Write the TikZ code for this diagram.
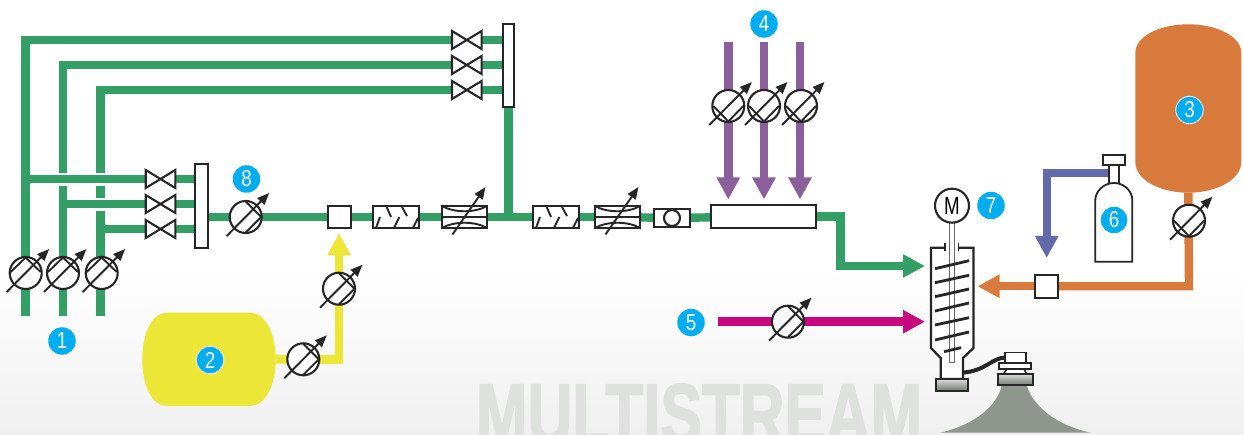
\documentclass[tikz,border=0pt]{standalone}
\usepackage{fontspec}
\usepackage{graphicx}
\setmainfont{Liberation Sans}
\newfontfamily\wmfont[FakeBold=2.5]{Liberation Sans Bold}
\usetikzlibrary{arrows.meta}
\definecolor{cgreen}{HTML}{339E66}
\definecolor{cyellow}{HTML}{ECE636}
\definecolor{corange}{HTML}{D87A3C}
\definecolor{cpurple}{HTML}{8B5F9B}
\definecolor{cblue}{HTML}{636AAC}
\definecolor{cmag}{HTML}{C8077F}
\definecolor{ccyan}{HTML}{00AEEF}
\definecolor{cext}{HTML}{8F968D}
\definecolor{cdark}{HTML}{262626}
\definecolor{cwm}{HTML}{DFE1DF}
\pgfdeclarelayer{bg}
\pgfdeclarelayer{pipes}
\pgfsetlayers{bg,pipes,main}
\tikzset{
  pipe/.style={line width=8.4pt,miter limit=10,line join=miter},
  head/.style={-{Triangle[length=22pt,width=22pt]}},
  symb/.style={draw=cdark,line width=2.1pt,fill=white},
  boxn/.style={symb,inner sep=0pt,outer sep=0pt,rectangle,minimum width=#1},
  boxn/.default=23pt,
  sline/.style={draw=cdark,line width=1.9pt},
  tankn/.style={inner sep=0pt,outer sep=0pt,rectangle},
  valven/.style={inner sep=0pt,outer sep=0pt,rectangle,minimum width=29.6pt,minimum height=18pt},
  meterc/.style={symb,circle,inner sep=0pt,outer sep=0pt,minimum size=32pt},
  badge/.style={circle,fill=ccyan,text=white,inner sep=0pt,minimum size=27.5pt,font=\fontsize{23}{23}\selectfont},
  badger/.style={badge,draw=white,line width=0.8pt},
  gblock/.style={draw=cdark,line width=2.2pt,top color=cext!35!white,bottom color=cext!80!black,inner sep=0pt,outer sep=0pt,rectangle},
  spiral/.style={draw=cdark,line width=2.8pt}
}
\newcommand\numtxt[1]{\scalebox{0.82}[1]{#1}}
\newcommand\flowmeter[4]{%
  \node[meterc] (#1) at (#2,#3) {};
  \begin{scope}[shift={(#2,#3)}]
    \draw[sline] #4;
    \draw[sline,-{Triangle[length=12pt,width=9.5pt]}] (-19,19) -- (23.5,-24);
  \end{scope}}
\newcommand\chordR{(0,-15.5) -- (15.5,0) -- (0,15.5)}
\newcommand\chordB{(-15,0) -- (0,15.5) -- (15,0)}
\newcommand\chordT{(-15,-1) -- (0,-15.5) -- (15,-1)}
\newcommand\valvesym[3]{%
  \node[valven] (#1) at (#2,#3) {};
  \draw[symb,line join=miter] (#1.north west) -- (#1.south east) -- (#1.north east) -- (#1.south west) -- cycle;}
\newcommand\mixersym[2]{%
  \node[boxn=46pt,minimum height=22.5pt] (#1) at (#2,217) {};
  \begin{scope}[shift={(#2,217)}]
    \draw[sline] (-20,11) -- (-16,0) (-2,11) -- (3.3,0) (17,11) -- (22,1)
                 (-9.3,-10) -- (-5,0) (6,-10) -- (11,-1);
  \end{scope}}
\newcommand\varsym[2]{%
  \node[boxn=45.5pt,minimum height=22.5pt] (#1) at (#2,217) {};
  \begin{scope}[shift={(#2,217)}]
    \draw[sline] (-22.7,0) -- (22.7,0);
    \draw[sline] (-22.7,-11) .. controls (-10,-4) and (10,-4) .. (22.7,-11);
    \draw[sline] (-22.7,11) .. controls (-10,4) and (10,4) .. (22.7,11);
    \draw[sline,-{Triangle[length=12pt,width=9.5pt]}] (-12,17.5) -- (21,-30);
  \end{scope}}
\begin{document}
\begin{tikzpicture}[x=1pt,y=-1pt]
\useasboundingbox (0,0) rectangle (1244,435);
\begin{pgfonlayer}{bg}
  \fill[white] (0,0) rectangle (1244,435);
  \shade[top color=white,bottom color=black!6] (0,270) rectangle (1244,435);
  \begin{scope}
    \clip (0,0) rectangle (1244,435);
    \node[anchor=base,inner sep=0pt,text=cwm,font=\wmfont\fontsize{86}{86}\selectfont] (wm) at (699,444) {\scalebox{0.72}[1]{MULTISTREAM}};
  \end{scope}
\end{pgfonlayer}

% tanks
\node[tankn,minimum width=133.4pt,minimum height=93.3pt] (ytank) at (209,359.4) {};
\fill[cyellow] (167,312.7) -- (250,312.7) .. controls (265,312.7) and (275.7,333) .. (275.7,359.4)
  .. controls (275.7,386) and (265,406) .. (250,406) -- (167,406)
  .. controls (152,406) and (142.3,386) .. (142.3,359.4)
  .. controls (142.3,333) and (152,312.7) .. (167,312.7) -- cycle;
\node[tankn,minimum width=106pt,minimum height=168.4pt] (otank) at (1188.3,108.5) {};
\fill[corange] (1135.3,53) .. controls (1135.3,36) and (1160,24.3) .. (1188.3,24.3)
  .. controls (1216,24.3) and (1241.3,36) .. (1241.3,53) -- (1241.3,161.7)
  .. controls (1241.3,180) and (1216,192.7) .. (1188.3,192.7)
  .. controls (1160,192.7) and (1135.3,180) .. (1135.3,161.7) -- cycle;

% valves and manifolds
\valvesym{vt1}{466.8}{40}
\valvesym{vt2}{466.8}{65}
\valvesym{vt3}{466.8}{90}
\node[boxn=11.3pt,minimum height=83pt] (mt) at (508.4,65.5) {};
\valvesym{vl1}{160.5}{179}
\valvesym{vl2}{160.5}{204}
\valvesym{vl3}{160.5}{229}
\node[boxn=13pt,minimum height=84pt] (ml) at (201.5,206) {};

% meters
\flowmeter{m1}{25.7}{273}{\chordT}
\flowmeter{m2}{63}{273}{\chordT}
\flowmeter{m3}{101.7}{273}{\chordT}
\flowmeter{m8}{245.7}{217}{\chordR}
\flowmeter{my1}{303.3}{359.3}{\chordR}
\flowmeter{my2}{339}{288.7}{\chordR}
\flowmeter{mp1}{728.3}{106}{\chordB}
\flowmeter{mp2}{764}{106}{\chordB}
\flowmeter{mp3}{801}{106}{\chordB}
\flowmeter{mm}{788}{321.7}{\chordR}
\flowmeter{mo}{1189}{220.7}{\chordB}

% inline elements
\node[boxn=23pt,minimum height=22.5pt] (sq1) at (339.2,217) {};
\mixersym{mx1}{396}
\varsym{vr1}{464.5}
\mixersym{mx2}{556}
\varsym{vr2}{617.5}
\node[boxn=36pt,minimum height=18pt] (chk) at (672,218) {};
\node[symb,circle,inner sep=0pt,minimum size=16pt] (chkc) at (672,218) {};
\node[boxn=104.7pt,minimum height=23pt] (mani) at (763.6,216.5) {};
\node[boxn=23pt,minimum height=23pt] (sq2) at (1046.4,286.3) {};

% bottle
\coordinate (bneck) at (1114,173);
\draw[symb,line width=1.8pt] (1109,165) rectangle (1119,184);
\node[boxn=22.6pt,minimum height=10pt,line width=1.8pt] (bcap) at (1114,160) {};
\draw[symb,line width=1.8pt] (1095.3,261.7) -- (1095.3,200) .. controls (1095.3,192) and (1103,183) .. (1114,183)
  .. controls (1125,183) and (1132.3,192) .. (1132.3,200) -- (1132.3,261.7) -- cycle;

% coordinates for pipes
\coordinate (c1t) at (25.5,40);  \coordinate (c1b) at (25.5,315.7);
\coordinate (c2t) at (63,65);    \coordinate (c2a) at (63,172.7); \coordinate (c2b) at (63,186); \coordinate (c2e) at (63,315.7);
\coordinate (c3t) at (100.5,90); \coordinate (c3a) at (100.5,172.7); \coordinate (c3b) at (100.5,186);
\coordinate (c3c) at (100.5,197.7); \coordinate (c3d) at (100.5,210.7); \coordinate (c3e) at (100.5,315.7);
\coordinate (j1) at (25.5,179); \coordinate (j2) at (63,204); \coordinate (j3) at (100.5,229);

\begin{pgfonlayer}{pipes}
  \draw[draw=cgreen,pipe] (vt1.west) -- (c1t) -- (c1b);
  \draw[draw=cgreen,pipe] (vt2.west) -- (c2t) -- (c2a);
  \draw[draw=cgreen,pipe] (c2b) -- (c2e);
  \draw[draw=cgreen,pipe] (vt3.west) -- (c3t) -- (c3a);
  \draw[draw=cgreen,pipe] (c3b) -- (c3c);
  \draw[draw=cgreen,pipe] (c3d) -- (c3e);
  \draw[draw=cgreen,pipe] (j1) -- (vl1.west);
  \draw[draw=cgreen,pipe] (j2) -- (vl2.west);
  \draw[draw=cgreen,pipe] (j3) -- (vl3.west);
  \draw[draw=cgreen,pipe] (vt1.east) -- (vt1.east -| mt.west);
  \draw[draw=cgreen,pipe] (vt2.east) -- (vt2.east -| mt.west);
  \draw[draw=cgreen,pipe] (vt3.east) -- (vt3.east -| mt.west);
  \draw[draw=cgreen,pipe] (vl1.east) -- (vl1.east -| ml.west);
  \draw[draw=cgreen,pipe] (vl2.east) -- (vl2.east -| ml.west);
  \draw[draw=cgreen,pipe] (vl3.east) -- (vl3.east -| ml.west);
  \draw[draw=cgreen,pipe] (ml.east |- m8) -- (m8);
  \draw[draw=cgreen,pipe] (m8) -- (sq1);
  \draw[draw=cgreen,pipe] (sq1) -- (mx1);
  \draw[draw=cgreen,pipe] (mx1) -- (vr1);
  \draw[draw=cgreen,pipe] (vr1) -- (mx2);
  \draw[draw=cgreen,pipe] (mx2) -- (vr2);
  \draw[draw=cgreen,pipe] (vr2) -- (chk);
  \draw[draw=cgreen,pipe] (chk) -- (mani);
  \draw[draw=cgreen,pipe] (mt.south) -- (mt.south |- mx1);
  \coordinate (gtip) at (925,266);
  \draw[draw=cgreen,pipe,head] (mani.east) -- (840.3,216.5) -- (840.3,266) -- (gtip);
  \coordinate (ytip) at (339,233.3);
  \draw[draw=cyellow,pipe] (ytank.east) -- (my1);
  \draw[draw=cyellow,pipe,head] (my1) -- (339,359.3) -- (ytip);
  \coordinate (p1a) at (728.3,42); \coordinate (p1b) at (728.3,199.5);
  \coordinate (p2a) at (764,42);   \coordinate (p2b) at (764,199.5);
  \coordinate (p3a) at (800,42);   \coordinate (p3b) at (800,199.5);
  \draw[draw=cpurple,pipe,head] (p1a) -- (p1b);
  \draw[draw=cpurple,pipe,head] (p2a) -- (p2b);
  \draw[draw=cpurple,pipe,head] (p3a) -- (p3b);
  \coordinate (ms) at (718,321.7); \coordinate (mtip) at (925,321.7);
  \draw[draw=cmag,pipe,head] (ms) -- (mtip);
  \coordinate (otip) at (977.5,286.3);
  \draw[draw=corange,pipe] (otank.south) -- (1189,286.3) -- (sq2);
  \draw[draw=corange,pipe,head] (sq2) -- (otip);
  \coordinate (btip) at (1046.7,258);
  \draw[draw=cblue,pipe,head] (bneck) -- (1046.7,173) -- (btip);
\end{pgfonlayer}

% reactor
\draw[symb,line width=2.3pt,line join=miter] (945,247.7) -- (931,247.7) -- (931,348) -- (940.7,358) -- (940.7,379)
  -- (963,379) -- (963,358) -- (973.5,348) -- (973.5,247.7) -- (958.5,247.7);
\node[inner sep=0pt,outer sep=0pt,rectangle,draw=black!60,line width=1pt,fill=white,minimum width=5.4pt,minimum height=139pt] (shaft) at (952,292.5) {};
\draw[sline] (945,243.5) -- (945,251.5) (958.5,243.5) -- (958.5,251.5);
\draw[spiral] (935,268.7) -- (969,260.7) (935,282.7) -- (969,275.3) (935,296.7) -- (969,289)
  (935,311) -- (969,303) (935,325) -- (969,317.7) (935,340) -- (969,332) (944,351.7) -- (961,347.7);
\node[symb,circle,inner sep=0pt,minimum size=34pt,font=\fontsize{25}{25}\selectfont] (motor) at (952,205.7) {\scalebox{0.75}[1]{M}};
\node[gblock,minimum width=31.5pt,minimum height=11.5pt] (base1) at (952,385) {};

% extruder
\fill[cext] (1001.7,385) .. controls (998,405) and (975,425) .. (940,432.7) -- (1090.7,432.7)
  .. controls (1055,425) and (1032,405) .. (1026.7,385) -- cycle;
\draw[symb,line width=1.6pt] (1007,369) -- (1003,374.5) -- (1027,374.5) -- (1024,369);
\node[gblock,minimum width=35.3pt,minimum height=11pt] (base2) at (1015.3,379.8) {};
\node[boxn=32pt,minimum height=6pt,line width=1.8pt] (flange) at (1015.3,366) {};
\node[boxn=21pt,minimum height=10pt,line width=1.8pt] (die) at (1015.5,357.5) {};
\draw[draw=cdark,line width=4pt] (963.5,372.5) .. controls (985,371) and (992,358) .. (die.west);

% badges
\node[badge] (b1) at (62,341) {\numtxt{1}};
\node[badger] (b2) at (210,360) {\numtxt{2}};
\node[badger] (b3) at (1189.5,110) {\numtxt{3}};
\node[badge] (b4) at (764,24) {\numtxt{4}};
\node[badge] (b5) at (691,322.5) {\numtxt{5}};
\node[badger] (b6) at (1114,220) {\numtxt{6}};
\node[badge] (b7) at (991,205.5) {\numtxt{7}};
\node[badge] (b8) at (246.5,179) {\numtxt{8}};
\end{tikzpicture}
\end{document}
